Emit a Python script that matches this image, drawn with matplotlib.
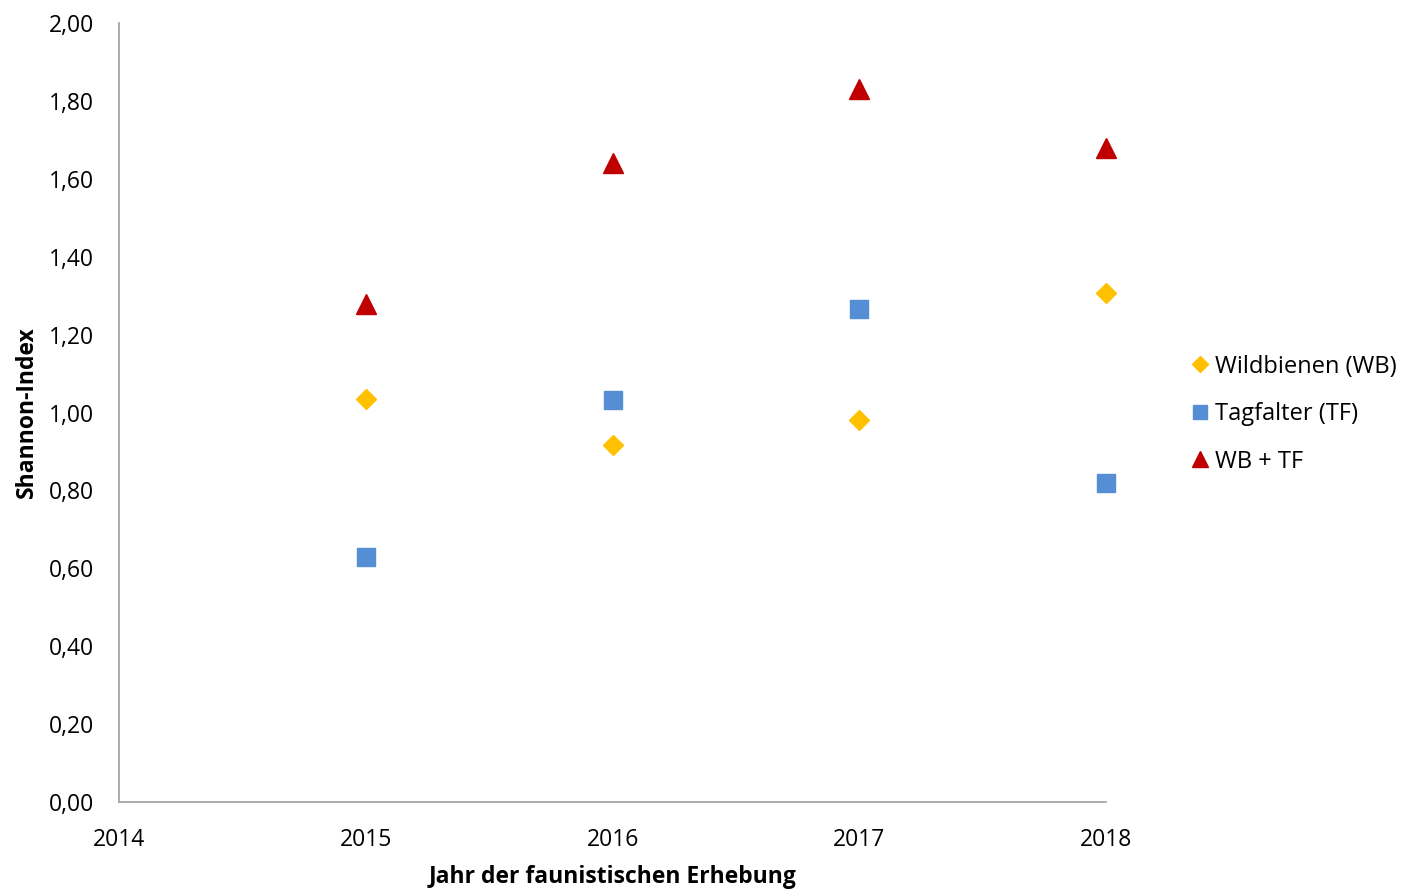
import matplotlib
matplotlib.use("Agg")
import matplotlib.pyplot as plt
import matplotlib.ticker as ticker

plt.rcParams['font.family'] = ['Open Sans', 'DejaVu Sans']

# Shannon-Index je Erhebungsjahr
years = [2015, 2016, 2017, 2018]
wildbienen = [1.035, 0.917, 0.981, 1.307]
tagfalter = [0.629, 1.032, 1.266, 0.819]
wb_tf = [1.279, 1.641, 1.831, 1.679]

fig = plt.figure(figsize=(14.04, 8.91), dpi=100)
ax = fig.add_axes([0.0848, 0.0999, 0.7030, 0.8741])

ax.plot(years, wildbienen, linestyle='none', marker='D', markersize=10,
        color='#FFC000', label='Wildbienen (WB)', clip_on=False)
ax.plot(years, tagfalter, linestyle='none', marker='s', markersize=13.5,
        color='#558ED5', label='Tagfalter (TF)', clip_on=False)
ax.plot(years, wb_tf, linestyle='none', marker='^', markersize=14,
        color='#C00000', label='WB + TF', clip_on=False)

ax.set_xlim(2014, 2018)
ax.set_ylim(0, 2.0)
ax.xaxis.set_major_locator(ticker.MultipleLocator(1))
ax.yaxis.set_major_locator(ticker.MultipleLocator(0.2))
ax.yaxis.set_major_formatter(ticker.FuncFormatter(lambda v, p: f"{v:.2f}".replace('.', ',')))

for s in ['top', 'right']:
    ax.spines[s].set_visible(False)
for s in ['left', 'bottom']:
    ax.spines[s].set_color('#A6A6A6')
    ax.spines[s].set_linewidth(1.3)
ax.tick_params(axis='both', length=0, labelsize=16.5)
ax.tick_params(axis='x', pad=19)
ax.tick_params(axis='y', pad=18)

ax.set_xlabel('Jahr der faunistischen Erhebung', fontsize=16.5, fontweight='bold', labelpad=9)
ax.set_ylabel('Shannon-Index', fontsize=16.5, fontweight='bold', labelpad=7)

ax.legend(loc='center left', bbox_to_anchor=(1.086, 0.498), frameon=False, fontsize=17,
          borderpad=0, borderaxespad=0, markerscale=0.78,
          handlelength=0.8, handletextpad=0.2, labelspacing=1.0)

plt.savefig('out.png', dpi=100)
